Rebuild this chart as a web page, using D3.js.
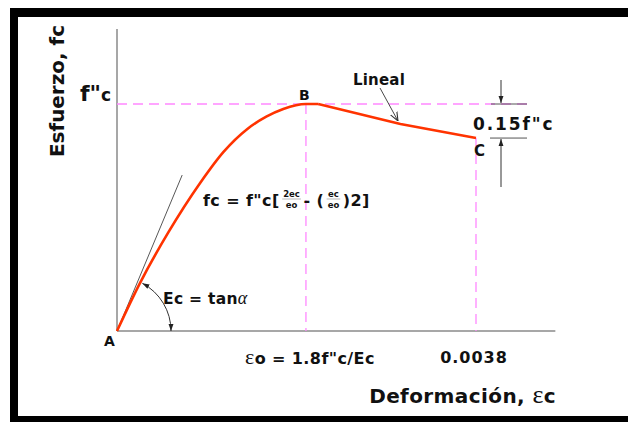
<!DOCTYPE html>
<html><head><meta charset="utf-8">
<script src="https://cdn.jsdelivr.net/npm/d3@7"></script>
<style>
body{margin:0;background:#fff}
svg text{font-family:"DejaVu Sans",Verdana,sans-serif;font-weight:bold;fill:#111}
</style>
</head><body><svg id="chart" width="628" height="422"></svg>
<script>
// Stress-strain curve of concrete, stress normalized by f"c
const riseStrain = [0, 0.000243, 0.00054, 0.00088, 0.00113, 0.00138, 0.00158, 0.00176, 0.0020, 0.00213];
const riseStress = [0, 0.211, 0.432, 0.652, 0.790, 0.890, 0.944, 0.978, 1.0, 1.0];
const fallStrain = [0.00213, 0.0030, 0.0038];
const fallStress = [1.0, 0.912, 0.85];
const tangentStrain = [0, 0.00069];
const tangentStress = [0, 0.687];
const tickValues = [0.0020, 0.0038];
const tickLabels = ["εo = 1.8f\"c/Ec", "0.0038"];
const peakStress = 1.0, endStress = 0.85;
const xMax = 0.00464, yMax = 1.33;

const svg = d3.select("#chart");
const x = d3.scaleLinear().domain([0, 0.0038]).range([117, 476]);
const y = d3.scaleLinear().domain([0, 1]).range([331, 104]);

// frame
svg.append("rect").attr("x", 10).attr("y", 8).attr("width", 618).attr("height", 9).attr("fill", "#000");
svg.append("rect").attr("x", 10).attr("y", 8).attr("width", 8).attr("height", 414).attr("fill", "#000");
svg.append("rect").attr("x", 10).attr("y", 416).attr("width", 618).attr("height", 6).attr("fill", "#000");

const defs = svg.append("defs");
defs.append("marker").attr("id", "tri").attr("viewBox", "0 0 10 10").attr("refX", 10).attr("refY", 5)
  .attr("markerWidth", 7).attr("markerHeight", 7).attr("orient", "auto-start-reverse").attr("markerUnits", "userSpaceOnUse")
  .append("path").attr("d", "M0,1.5L10,5L0,8.5Z").attr("fill", "#222");
defs.append("marker").attr("id", "vee").attr("viewBox", "0 0 10 10").attr("refX", 10).attr("refY", 5)
  .attr("markerWidth", 9).attr("markerHeight", 9).attr("orient", "auto").attr("markerUnits", "userSpaceOnUse")
  .append("path").attr("d", "M0,1L10,5L0,9").attr("fill", "none").attr("stroke", "#333").attr("stroke-width", 1.2);

// axes (no ticks)
const axisColor = "#8a8a8a";
svg.append("line").attr("x1", x(0)).attr("x2", x(0)).attr("y1", y(0)).attr("y2", y(yMax))
  .attr("stroke", axisColor).attr("stroke-width", 1.5);
svg.append("line").attr("x1", x(0)).attr("x2", x(xMax)).attr("y1", y(0)).attr("y2", y(0))
  .attr("stroke", axisColor).attr("stroke-width", 1.5);

// reference dashed lines
const pink = "#ff88ff";
const dash = "10,6";
svg.append("line").attr("x1", x(0)).attr("x2", x(0.00438)).attr("y1", y(peakStress)).attr("y2", y(peakStress))
  .attr("stroke", pink).attr("stroke-width", 1.3).attr("stroke-dasharray", dash);
tickValues.forEach((v, i) => {
  svg.append("line").attr("x1", x(v)).attr("x2", x(v))
    .attr("y1", y(i === 0 ? peakStress : endStress)).attr("y2", y(0))
    .attr("stroke", pink).attr("stroke-width", 1.3).attr("stroke-dasharray", dash);
});

// initial tangent
svg.append("line").attr("x1", x(tangentStrain[0])).attr("y1", y(tangentStress[0]))
  .attr("x2", x(tangentStrain[1])).attr("y2", y(tangentStress[1]))
  .attr("stroke", "#444").attr("stroke-width", 0.9);

// curve
const rise = riseStrain.map((e, i) => [e, riseStress[i]]);
const fall = fallStrain.map((e, i) => [e, fallStress[i]]);
svg.append("path").attr("d", d3.line().x(d => x(d[0])).y(d => y(d[1])).curve(d3.curveMonotoneX)(rise))
  .attr("fill", "none").attr("stroke", "#ff3300").attr("stroke-width", 2.6);
svg.append("path").attr("d", d3.line().x(d => x(d[0])).y(d => y(d[1]))(fall))
  .attr("fill", "none").attr("stroke", "#ff3300").attr("stroke-width", 2.6).attr("stroke-linejoin", "round");

// angle arc with arrows at both ends
const cx = x(0), cy = y(0), r = 54, a0 = 62 * Math.PI / 180;
svg.append("path")
  .attr("d", `M${cx + r * Math.cos(a0)},${cy - r * Math.sin(a0)} A${r},${r} 0 0 1 ${cx + r},${cy}`)
  .attr("fill", "none").attr("stroke", "#333").attr("stroke-width", 1)
  .attr("marker-start", "url(#tri)").attr("marker-end", "url(#tri)");

// "Lineal" pointer
svg.append("line").attr("x1", 380).attr("y1", 88).attr("x2", 398).attr("y2", 121)
  .attr("stroke", "#333").attr("stroke-width", 0.9).attr("marker-end", "url(#vee)");

// 0.15f"c dimension
const dimX = 501;
svg.append("line").attr("x1", 491).attr("x2", 527).attr("y1", y(peakStress)).attr("y2", y(peakStress)).attr("stroke", "#555").attr("stroke-width", 1);
svg.append("line").attr("x1", 490).attr("x2", 527).attr("y1", y(endStress)).attr("y2", y(endStress)).attr("stroke", "#555").attr("stroke-width", 1);
svg.append("line").attr("x1", dimX).attr("x2", dimX).attr("y1", 80).attr("y2", y(peakStress) - 1)
  .attr("stroke", "#333").attr("stroke-width", 1).attr("marker-end", "url(#tri)");
svg.append("line").attr("x1", dimX).attr("x2", dimX).attr("y1", 187).attr("y2", y(endStress) + 1)
  .attr("stroke", "#333").attr("stroke-width", 1).attr("marker-end", "url(#tri)");

// labels
function label(t, px, py, size, anchor) {
  return svg.append("text").attr("x", px).attr("y", py).attr("font-size", size)
    .attr("text-anchor", anchor || "start").text(t);
}
label("Esfuerzo, fc", 0, 0, 20, "middle")
  .attr("textLength", 132).attr("lengthAdjust", "spacing")
  .attr("transform", "translate(64,91) rotate(-90)");
const fpc = svg.append("text").attr("x", 80).attr("y", 101);
fpc.append("tspan").attr("font-size", 22).text("f\"");
fpc.append("tspan").attr("font-size", 17).text("c");

label("B", 299, 100, 14);
label("C", 474, 156, 15);
label("A", 104, 346, 14);
label("Lineal", 353, 85, 15).attr("letter-spacing", 0.2);
label("0.15f\"c", 473, 130, 17).attr("letter-spacing", 1.9);

const ec = label("Ec = tan", 163, 304, 15.5).attr("letter-spacing", 0.3);
ec.append("tspan").attr("font-weight", "normal").attr("font-style", "italic").attr("font-family", "Liberation Serif, serif").attr("font-size", 18).text("α");

// formula with stacked fractions, laid out piece by piece
(function () {
  const g = svg.append("g");
  let cur = 203;
  const base = 206;
  function piece(t, size) {
    const el = g.append("text").attr("x", cur).attr("y", base).attr("font-size", size || 16).attr("letter-spacing", 0.4).text(t);
    cur += el.node().getComputedTextLength() + 1;
  }
  function frac(num, den) {
    cur += 1.5;
    const n = g.append("text").attr("x", cur).attr("y", base - 9).attr("font-size", 8.5).attr("font-weight", "normal").text(num);
    const d = g.append("text").attr("x", cur).attr("y", base + 1.5).attr("font-size", 8.5).attr("font-weight", "normal").text(den);
    const w = Math.max(n.node().getComputedTextLength(), d.node().getComputedTextLength()) + 2;
    n.attr("x", cur + (w - n.node().getComputedTextLength()) / 2);
    d.attr("x", cur + (w - d.node().getComputedTextLength()) / 2);
    g.append("line").attr("x1", cur).attr("x2", cur + w).attr("y1", base - 7).attr("y2", base - 7).attr("stroke", "#888").attr("stroke-width", 0.6);
    cur += w + 2.5;
  }
  piece("fc = f\"c[");
  frac("2ec", "eo");
  piece("- (");
  frac("ec", "eo");
  piece(")2]");
})();

// tick labels
const t0 = svg.append("text").attr("x", x(tickValues[0]) + 4).attr("y", 364).attr("text-anchor", "middle").attr("font-size", 16).attr("letter-spacing", 0.4);
t0.append("tspan").attr("font-weight", "normal").attr("font-family", "Liberation Serif, serif").attr("font-size", 22).text(tickLabels[0].slice(0, 1));
t0.append("tspan").text(tickLabels[0].slice(1));
label(tickLabels[1], x(tickValues[1]) - 2, 363, 16, "middle").attr("letter-spacing", 1);

const xl = svg.append("text").attr("x", 556).attr("y", 403).attr("text-anchor", "end").attr("font-size", 20).attr("letter-spacing", 0.4);
xl.append("tspan").text("Deformación,  ");
xl.append("tspan").attr("font-weight", "normal").attr("font-family", "Liberation Serif, serif").attr("font-size", 26).text("ε");
xl.append("tspan").text("c");
</script>
</body></html>
